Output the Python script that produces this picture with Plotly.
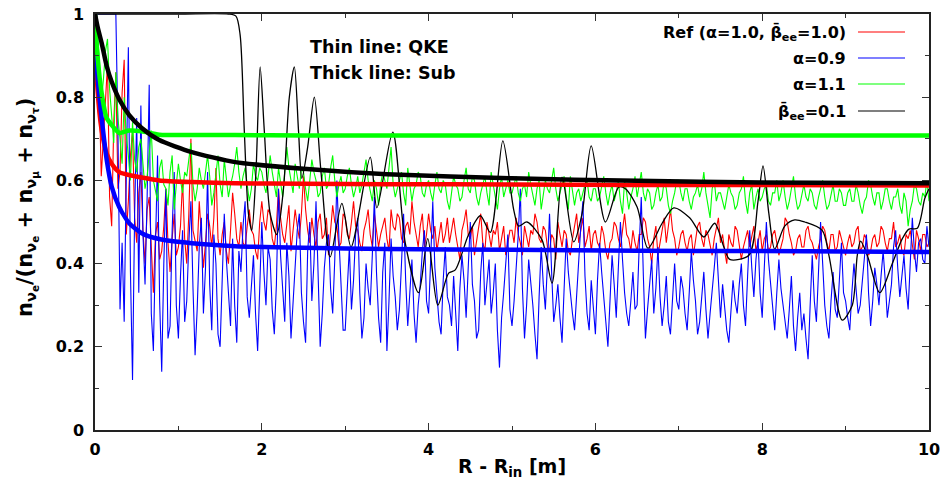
import numpy as np
import plotly.graph_objects as go

# ---------------- data ----------------
# common grid of the thin (QKE) noisy curves: 0 .. 10 step 0.025
x_qke = np.round(np.arange(0, 10.0001, 0.025), 3)

ref_qke = [
    1.00,0.93,0.82,0.61,0.70,0.79,0.88,0.56,0.49,0.74,0.86,0.58,0.62,0.81,0.89,0.47,0.55,0.66,0.72,0.51,0.45,0.57,0.62,0.48,0.40,0.53,0.56,0.44,0.33,0.47,0.50,0.41,0.43,0.49,0.58,0.45,0.38,0.46,0.52,0.42,
    0.44,0.49,0.60,0.46,0.40,0.52,0.70,0.48,0.45,0.43,0.55,0.47,0.39,0.45,0.52,0.49,0.44,0.51,0.63,0.46,0.42,0.47,0.50,0.43,0.40,0.48,0.57,0.52,0.46,0.44,0.50,0.45,0.44,0.49,0.53,0.48,0.47,0.43,0.41,0.50,
    0.55,0.50,0.48,0.53,0.52,0.46,0.44,0.49,0.58,0.51,0.47,0.45,0.50,0.54,0.43,0.48,0.53,0.49,0.46,0.52,0.61,0.53,0.48,0.45,0.51,0.47,0.44,0.50,0.52,0.46,0.47,0.51,0.42,0.48,0.54,0.50,0.49,0.44,0.45,0.52,
    0.51,0.47,0.46,0.50,0.55,0.49,0.48,0.45,0.43,0.48,0.50,0.53,0.47,0.44,0.52,0.48,0.44,0.47,0.49,0.51,0.46,0.43,0.53,0.49,0.48,0.52,0.51,0.46,0.45,0.49,0.50,0.47,0.55,0.50,0.47,0.44,0.49,0.52,0.44,0.47,
    0.52,0.48,0.46,0.49,0.43,0.46,0.50,0.45,0.47,0.51,0.45,0.48,0.51,0.47,0.44,0.41,0.48,0.50,0.53,0.47,0.46,0.49,0.42,0.45,0.49,0.52,0.45,0.43,0.50,0.47,0.44,0.48,0.47,0.50,0.43,0.46,0.49,0.42,0.45,0.48,
    0.48,0.45,0.51,0.47,0.45,0.42,0.49,0.46,0.44,0.48,0.47,0.52,0.50,0.46,0.45,0.49,0.48,0.44,0.43,0.47,0.46,0.41,0.50,0.47,0.44,0.48,0.47,0.43,0.42,0.46,0.49,0.52,0.45,0.48,0.51,0.44,0.46,0.49,0.43,0.47,
    0.48,0.45,0.44,0.49,0.47,0.43,0.41,0.45,0.46,0.50,0.49,0.46,0.44,0.48,0.52,0.47,0.46,0.43,0.48,0.45,0.43,0.47,0.47,0.51,0.50,0.46,0.44,0.40,0.46,0.49,0.42,0.45,0.48,0.51,0.45,0.49,0.53,0.48,0.46,0.42,
    0.44,0.47,0.48,0.45,0.43,0.46,0.47,0.42,0.45,0.49,0.50,0.46,0.44,0.48,0.47,0.44,0.42,0.46,0.49,0.51,0.45,0.47,0.43,0.40,0.47,0.45,0.44,0.49,0.48,0.45,0.41,0.44,0.46,0.48,0.44,0.47,0.49,0.43,0.45,0.48,
    0.43,0.46,0.47,0.43,0.44,0.47,0.48,0.45,0.42,0.44,0.46,0.51,0.50,0.47,0.45,0.42,0.43,0.46,0.47,0.44,0.44,0.48,0.49,0.46,0.45,0.43,0.41,0.44,0.46,0.49,0.48,0.45,0.43,0.47,0.47,0.43,0.44,0.48,0.46,0.44,
    0.42,0.45,0.47,0.44,0.45,0.48,0.49,0.43,0.44,0.47,0.46,0.42,0.43,0.46,0.47,0.44,0.45,0.49,0.48,0.45,0.43,0.46,0.46,0.50,0.44,0.45,0.47,0.43,0.42,0.47,0.46,0.48,0.44,0.41,0.48,0.46,0.43,0.47,0.47,0.44,
    0.45]

a09_qke = [
    1.00,1.00,1.00,1.00,1.00,1.00,1.00,1.00,1.00,1.00,1.00,0.72,0.29,0.45,0.26,0.61,0.92,0.38,0.12,0.52,0.75,0.33,0.78,0.47,0.35,0.56,0.83,0.28,0.19,0.44,0.66,0.31,0.14,0.40,0.58,0.22,0.25,0.48,0.62,0.30,
    0.22,0.37,0.48,0.26,0.31,0.45,0.55,0.34,0.18,0.29,0.44,0.51,0.28,0.39,0.62,0.35,0.24,0.47,0.40,0.23,0.20,0.36,0.52,0.41,0.33,0.25,0.46,0.30,0.21,0.43,0.38,0.49,0.55,0.32,0.27,0.36,0.42,0.28,0.19,0.34,
    0.50,0.38,0.30,0.44,0.41,0.29,0.23,0.35,0.58,0.42,0.34,0.26,0.45,0.37,0.22,0.31,0.37,0.48,0.52,0.33,0.26,0.21,0.43,0.50,0.31,0.40,0.55,0.36,0.20,0.28,0.39,0.45,0.47,0.34,0.28,0.41,0.60,0.46,0.33,0.24,
    0.24,0.35,0.44,0.29,0.36,0.47,0.51,0.33,0.22,0.27,0.40,0.34,0.30,0.42,0.56,0.38,0.27,0.21,0.38,0.45,0.19,0.31,0.46,0.37,0.32,0.24,0.29,0.40,0.52,0.36,0.25,0.33,0.41,0.28,0.21,0.30,0.35,0.43,0.48,0.31,
    0.28,0.41,0.55,0.39,0.33,0.26,0.23,0.36,0.44,0.32,0.30,0.25,0.37,0.28,0.19,0.34,0.42,0.36,0.27,0.39,0.50,0.35,0.31,0.22,0.24,0.38,0.45,0.30,0.35,0.41,0.28,0.33,0.40,0.24,0.15,0.27,0.33,0.40,0.47,0.29,
    0.25,0.31,0.38,0.47,0.58,0.34,0.22,0.30,0.41,0.36,0.30,0.23,0.17,0.32,0.44,0.35,0.29,0.40,0.52,0.38,0.26,0.30,0.35,0.27,0.21,0.34,0.46,0.38,0.32,0.28,0.24,0.33,0.40,0.49,0.55,0.37,0.28,0.24,0.36,0.30,
    0.23,0.36,0.45,0.38,0.31,0.26,0.20,0.33,0.42,0.35,0.27,0.39,0.50,0.41,0.33,0.28,0.25,0.31,0.38,0.29,0.30,0.44,0.56,0.37,0.22,0.29,0.35,0.41,0.28,0.34,0.44,0.32,0.25,0.30,0.37,0.26,0.23,0.33,0.40,0.31,
    0.29,0.37,0.34,0.28,0.24,0.33,0.43,0.36,0.31,0.23,0.26,0.32,0.38,0.29,0.22,0.28,0.33,0.39,0.45,0.34,0.27,0.35,0.30,0.24,0.21,0.29,0.36,0.31,0.28,0.35,0.40,0.30,0.25,0.37,0.48,0.39,0.32,0.41,0.46,0.33,
    0.27,0.39,0.50,0.41,0.35,0.28,0.24,0.33,0.41,0.34,0.30,0.26,0.22,0.29,0.37,0.25,0.19,0.27,0.33,0.24,0.28,0.22,0.17,0.30,0.42,0.31,0.26,0.38,0.50,0.40,0.30,0.25,0.22,0.31,0.38,0.29,0.27,0.36,0.45,0.33,
    0.31,0.27,0.24,0.33,0.40,0.34,0.28,0.30,0.36,0.42,0.47,0.33,0.25,0.31,0.39,0.35,0.30,0.37,0.43,0.36,0.27,0.31,0.35,0.44,0.48,0.39,0.32,0.37,0.42,0.34,0.29,0.40,0.51,0.43,0.38,0.45,0.46,0.41,0.40,0.49,
    0.44]

a11_qke = [
    1.00,0.95,0.90,0.79,0.84,0.91,0.94,0.82,0.76,0.69,0.86,0.75,0.70,0.64,0.80,0.71,0.66,0.60,0.74,0.65,0.62,0.68,0.70,0.63,0.58,0.61,0.67,0.72,0.60,0.57,0.55,0.63,0.65,0.59,0.58,0.54,0.62,0.66,0.53,0.59,
    0.64,0.60,0.57,0.62,0.61,0.65,0.69,0.59,0.55,0.58,0.63,0.60,0.58,0.62,0.66,0.61,0.54,0.57,0.62,0.66,0.59,0.56,0.65,0.61,0.56,0.59,0.61,0.64,0.68,0.62,0.58,0.61,0.63,0.59,0.55,0.58,0.64,0.61,0.60,0.63,
    0.62,0.59,0.57,0.61,0.66,0.62,0.59,0.56,0.63,0.60,0.56,0.62,0.68,0.63,0.60,0.57,0.64,0.61,0.58,0.63,0.62,0.58,0.55,0.60,0.65,0.62,0.60,0.56,0.57,0.61,0.63,0.58,0.59,0.63,0.66,0.60,0.56,0.59,0.61,0.57,
    0.58,0.61,0.63,0.59,0.56,0.58,0.61,0.57,0.59,0.62,0.65,0.60,0.57,0.55,0.60,0.58,0.54,0.59,0.62,0.60,0.58,0.63,0.68,0.59,0.56,0.58,0.60,0.62,0.57,0.54,0.63,0.59,0.55,0.58,0.59,0.62,0.61,0.57,0.56,0.59,
    0.60,0.57,0.55,0.59,0.62,0.58,0.57,0.60,0.59,0.55,0.53,0.57,0.61,0.59,0.58,0.55,0.56,0.60,0.63,0.58,0.57,0.61,0.60,0.56,0.54,0.57,0.59,0.61,0.57,0.54,0.62,0.59,0.55,0.53,0.58,0.61,0.56,0.58,0.60,0.57,
    0.57,0.59,0.61,0.57,0.55,0.58,0.59,0.56,0.62,0.59,0.56,0.54,0.58,0.60,0.53,0.56,0.60,0.58,0.57,0.60,0.63,0.58,0.55,0.57,0.59,0.61,0.56,0.53,0.61,0.58,0.54,0.57,0.58,0.55,0.57,0.59,0.60,0.56,0.55,0.58,
    0.58,0.55,0.56,0.59,0.61,0.57,0.54,0.57,0.59,0.55,0.57,0.60,0.55,0.52,0.60,0.57,0.53,0.56,0.58,0.61,0.56,0.59,0.62,0.57,0.55,0.58,0.57,0.53,0.54,0.57,0.59,0.55,0.56,0.60,0.58,0.54,0.52,0.55,0.57,0.60,
    0.60,0.57,0.55,0.58,0.58,0.55,0.53,0.56,0.57,0.59,0.56,0.58,0.62,0.57,0.54,0.51,0.58,0.60,0.55,0.57,0.57,0.55,0.53,0.56,0.59,0.57,0.56,0.53,0.54,0.57,0.58,0.61,0.55,0.52,0.57,0.59,0.53,0.56,0.58,0.55,
    0.56,0.58,0.59,0.55,0.54,0.57,0.57,0.60,0.55,0.57,0.60,0.56,0.53,0.55,0.58,0.61,0.56,0.53,0.54,0.57,0.59,0.56,0.55,0.58,0.57,0.54,0.53,0.56,0.58,0.60,0.56,0.53,0.54,0.57,0.59,0.55,0.55,0.58,0.57,0.54,
    0.54,0.57,0.58,0.55,0.55,0.59,0.57,0.54,0.52,0.55,0.56,0.60,0.59,0.56,0.54,0.57,0.57,0.53,0.55,0.58,0.58,0.55,0.53,0.56,0.56,0.58,0.54,0.52,0.57,0.55,0.49,0.53,0.55,0.59,0.58,0.55,0.54,0.57,0.56,0.60,
    0.55]

# beta_ee = 0.1 thin (QKE) curve: smooth, sampled at its turning points
x_b01_qke = [0, 1.0, 1.6, 1.69, 1.74, 1.79, 1.84, 1.88, 1.93, 1.98, 2.03, 2.10, 2.18, 2.26, 2.33, 2.39,
             2.44, 2.48, 2.55, 2.63, 2.71, 2.82, 2.96, 3.07, 3.30, 3.38, 3.57, 3.72, 3.88, 3.99, 4.11,
             4.24, 4.32, 4.48, 4.62, 4.74, 4.89, 5.02, 5.08, 5.18, 5.36, 5.48, 5.60, 5.74, 5.84, 5.95,
             6.12, 6.28, 6.36, 6.50, 6.63, 6.80, 6.94, 7.13, 7.30, 7.43, 7.54, 7.61, 7.84, 7.95, 8.01,
             8.08, 8.15, 8.27, 8.39, 8.51, 8.72, 8.80, 8.96, 9.08, 9.14, 9.18, 9.26, 9.41, 9.56, 9.68,
             9.76, 9.86, 9.95, 10.0]
y_b01_qke = [1.0, 1.0, 1.0, 0.995, 0.95, 0.72, 0.52, 0.48, 0.62, 0.873, 0.72, 0.52, 0.47, 0.58, 0.80, 0.873,
             0.72, 0.605, 0.68, 0.80, 0.62, 0.416, 0.545, 0.44, 0.656, 0.534, 0.716, 0.45, 0.33, 0.46, 0.30,
             0.377, 0.385, 0.47, 0.515, 0.475, 0.695, 0.53, 0.49, 0.50, 0.457, 0.353, 0.608, 0.452, 0.52, 0.683,
             0.50, 0.584, 0.58, 0.536, 0.437, 0.497, 0.534, 0.51, 0.464, 0.497, 0.44, 0.41, 0.42, 0.55, 0.635,
             0.52, 0.435, 0.49, 0.505, 0.50, 0.48, 0.42, 0.264, 0.30, 0.42, 0.454, 0.42, 0.33, 0.40, 0.46,
             0.483, 0.485, 0.557, 0.58]

# thick (Sub) curves
x_sub = [0, 0.03, 0.08, 0.14, 0.2, 0.29, 0.41, 0.56, 0.77, 1.16, 1.68, 2.5, 3.5, 5, 6.5, 8, 10]
ref_sub = [1.0, 0.82, 0.72, 0.665, 0.64, 0.62, 0.613, 0.607, 0.600, 0.596, 0.593, 0.592, 0.591, 0.590, 0.589, 0.589, 0.588]
a09_sub = [1.0, 0.85, 0.75, 0.65, 0.585, 0.536, 0.497, 0.473, 0.459, 0.449, 0.442, 0.438, 0.435, 0.433, 0.431, 0.430, 0.428]
a11_sub = [1.0, 0.90, 0.81, 0.75, 0.733, 0.714, 0.720, 0.718, 0.710, 0.709, 0.709, 0.708, 0.708, 0.708, 0.708, 0.708, 0.708]
b01_sub = [1.0, 0.97, 0.93, 0.875, 0.837, 0.795, 0.757, 0.726, 0.697, 0.668, 0.644, 0.628, 0.615, 0.605, 0.599, 0.595, 0.593]

for s in (ref_qke, a09_qke, a11_qke):
    assert len(s) == len(x_qke), (len(s), len(x_qke))

legend_labels = ["Ref (α=1.0, β̄<sub>ee</sub>=1.0)", "α=0.9", "α=1.1", "β̄<sub>ee</sub>=0.1"]
colors = ["#ff0000", "#0000ff", "#00ff00", "#000000"]

x_ticks = [0, 2, 4, 6, 8, 10]
y_ticks = [0, 0.2, 0.4, 0.6, 0.8, 1]
y_tick_text = ["0", "0.2", "0.4", "0.6", "0.8", "1"]
y_title = "n<sub>ν<sub>e</sub></sub>/(n<sub>ν<sub>e</sub></sub> + n<sub>ν<sub>μ</sub></sub> + n<sub>ν<sub>τ</sub></sub>)"
x_title = "R - R<sub>in</sub> [m]"

# ---------------- figure ----------------
FONT = "DejaVu Sans, Arial, sans-serif"
fig = go.Figure()

for ys, c in zip([ref_qke, a09_qke, a11_qke], colors[:3]):
    fig.add_trace(go.Scatter(x=x_qke, y=ys, mode="lines", line=dict(color=c, width=1.1),
                             showlegend=False, hoverinfo="skip"))
fig.add_trace(go.Scatter(x=x_b01_qke, y=y_b01_qke, mode="lines",
                         line=dict(color="black", width=1.3, shape="spline", smoothing=0.8),
                         showlegend=False, hoverinfo="skip"))
for ys, c in zip([ref_sub, a09_sub, a11_sub, b01_sub], colors):
    fig.add_trace(go.Scatter(x=x_sub, y=ys, mode="lines",
                             line=dict(color=c, width=4.5, shape="spline", smoothing=0.6),
                             showlegend=False, hoverinfo="skip"))

# manual legend (text right, line sample to the right, as in the original)
leg_y = [33, 59, 85, 112]   # pixel rows of entries
PT, PH, PL, PW = 14, 416, 95, 834
shapes = []
annotations = []
for lab, c, py in zip(legend_labels, colors, leg_y):
    yp = 1 - (py - PT) / PH
    annotations.append(dict(xref="paper", yref="paper", x=(848 - PL) / PW, y=yp, text="<b>" + lab + "</b>",
                            showarrow=False, xanchor="right", yanchor="middle",
                            font=dict(family=FONT, size=16, color="black")))
    shapes.append(dict(type="line", xref="paper", yref="paper", x0=(858 - PL) / PW, x1=(905 - PL) / PW,
                       y0=1 - (py - 1 - PT) / PH, y1=1 - (py - 1 - PT) / PH, line=dict(color=c, width=1.2)))

annotations.append(dict(xref="x", yref="paper", x=2.55, y=1 - (47 - PT) / PH, text="<b>Thin line: QKE</b>",
                        showarrow=False, xanchor="left", yanchor="middle",
                        font=dict(family=FONT, size=17.5, color="black")))
annotations.append(dict(xref="x", yref="paper", x=2.55, y=1 - (73 - PT) / PH, text="<b>Thick line: Sub</b>",
                        showarrow=False, xanchor="left", yanchor="middle",
                        font=dict(family=FONT, size=17.5, color="black")))
# y-axis title placed as rotated text
annotations.append(dict(xref="paper", yref="paper", x=(27 - PL) / PW, y=1 - (208 - PT) / PH,
                        text="<b>" + y_title + "</b>", textangle=-90, showarrow=False,
                        xanchor="center", yanchor="middle",
                        font=dict(family=FONT, size=21, color="black")))

fig.update_layout(
    width=941, height=487,
    margin=dict(l=95, r=12, t=14, b=57),
    paper_bgcolor="white", plot_bgcolor="white",
    font=dict(family=FONT, size=16, color="black"),
    shapes=shapes, annotations=annotations,
    showlegend=False,
)
fig.update_xaxes(range=[0, 10], tickvals=x_ticks, ticktext=["<b>%g</b>" % v for v in x_ticks],
                 ticks="inside", ticklen=7, tickwidth=1, tickcolor="#333", ticklabelstandoff=4,
                 minor=dict(ticks="inside", dtick=1, ticklen=4, tickcolor="#333"),
                 showline=True, linecolor="#222", linewidth=1.5, mirror="ticks",
                 showgrid=False, zeroline=False, automargin=False,
                 title=dict(text="<b>" + x_title + "</b>", standoff=2, font=dict(size=19)))
fig.update_yaxes(range=[0, 1], tickvals=y_ticks, ticktext=["<b>%s</b>" % t for t in y_tick_text],
                 ticks="inside", ticklen=7, tickwidth=1, tickcolor="#333", ticklabelstandoff=6,
                 minor=dict(ticks="inside", dtick=0.1, ticklen=4, tickcolor="#333"),
                 showline=True, linecolor="#222", linewidth=1.5, mirror="ticks",
                 showgrid=False, zeroline=False, automargin=False)

fig.write_html("out.html", config={"displayModeBar": False},
               post_script="document.body.style.margin='0';document.body.style.overflow='hidden';")
